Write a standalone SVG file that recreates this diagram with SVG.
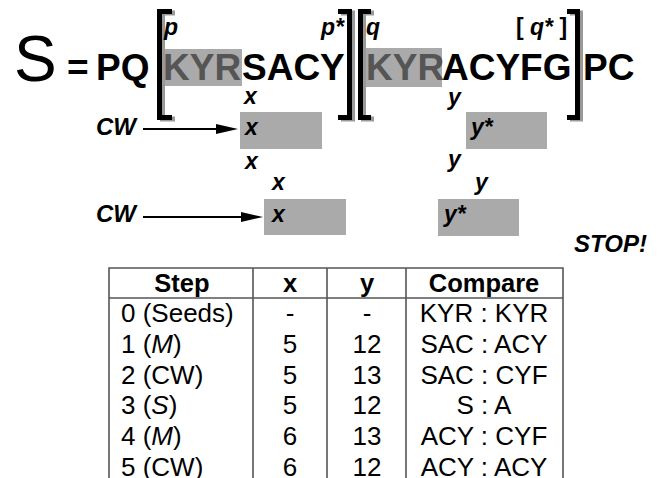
<svg xmlns="http://www.w3.org/2000/svg" width="661" height="478" viewBox="0 0 661 478">
<defs>
<style>
.big{font-family:"Liberation Sans",Arial,sans-serif;font-weight:bold;font-size:37px;fill:#000}
.kyr{fill:#555}
.lab{font-family:"Liberation Sans",Arial,sans-serif;font-weight:bold;font-style:italic;font-size:23px;fill:#000}
.cw{font-family:"Liberation Sans",Arial,sans-serif;font-weight:bold;font-style:italic;font-size:24px;fill:#000}
.box{fill:#aaaaaa}
.br{fill:none;stroke:#000;stroke-width:5;stroke-linejoin:miter}
.brs{fill:none;stroke:#999;stroke-width:5;stroke-linejoin:miter}
.conn{stroke:#000;stroke-width:2;fill:none}
.head{fill:#000}
.tl{stroke:#555;stroke-width:1.6;fill:none}
.th{font-family:"Liberation Sans",Arial,sans-serif;font-weight:bold;font-size:25.5px;fill:#000}
.td{font-family:"Liberation Sans",Arial,sans-serif;font-size:26px;fill:#000}
.c{text-anchor:middle}
.i{font-style:italic}
</style>
</defs>
<rect width="661" height="478" fill="#fff"/>

<g id="sequence">
<text x="14" y="81" font-family="'Liberation Sans',Arial,sans-serif" font-size="64" fill="#000">S</text>
<text class="big" x="67" y="80">=</text>
<text class="big" x="96" y="80">PQ</text>
<rect class="box" x="161" y="49" width="81" height="37"/>
<text class="big kyr" x="163" y="80">KYR</text>
<text class="big" x="242" y="80">SACY</text>
<rect class="box" x="365" y="48" width="77" height="39"/>
<text class="big kyr" x="366" y="80">KYR</text>
<text class="big" x="442" y="80">ACYFG</text>
<text class="big" x="583" y="80">PC</text>
</g>

<g id="brackets">
<path class="brs" d="M175,13 H162.5 V119 H175"/>
<path class="brs" d="M341,13 H352.5 V119 H341"/>
<path class="brs" d="M374,13 H363.5 V119 H374"/>
<path class="brs" d="M570,13 H580.5 V119 H570"/>
<path class="br" d="M172,11.5 H159.5 V117.5 H172"/>
<path class="br" d="M338,11.5 H349.5 V117.5 H338"/>
<path class="br" d="M371,11.5 H360.5 V117.5 H371"/>
<path class="br" d="M567,11.5 H577.5 V117.5 H567"/>
</g>

<g id="labels-top">
<text class="lab" x="164" y="35">p</text>
<text class="lab" x="321" y="35">p*</text>
<text class="lab" x="366" y="35">q</text>
<text class="lab" x="516" y="35"><tspan font-style="normal">[</tspan> q* <tspan font-style="normal">]</tspan></text>
<text class="lab" x="244" y="104">x</text>
<text class="lab" x="448" y="105">y</text>
</g>

<g id="row1">
<text class="cw" x="96" y="135">CW</text>
<rect class="box" x="240" y="112" width="82" height="37"/>
<text class="lab" x="245" y="135">x</text>
<rect class="box" x="466" y="112" width="81" height="37"/>
<text class="lab" x="471" y="135">y*</text>
<text class="lab" x="245" y="169">x</text>
<text class="lab" x="448" y="167">y</text>
</g>

<g id="row2">
<text class="lab" x="272" y="190">x</text>
<text class="lab" x="475" y="190">y</text>
<text class="cw" x="96" y="222">CW</text>
<rect class="box" x="264" y="199" width="82" height="36"/>
<text class="lab" x="272" y="222">x</text>
<rect class="box" x="438" y="199" width="81" height="37"/>
<text class="lab" x="444" y="222">y*</text>
<text class="cw" x="574" y="252">STOP!</text>
</g>

<g id="connectors">
<line class="conn" x1="143" y1="129" x2="222" y2="129"/>
<polygon class="head" points="238,129 216,124 216,134"/>
<line class="conn" x1="143" y1="217" x2="246" y2="217"/>
<polygon class="head" points="263,217 241,212 241,222"/>
</g>

<g id="table">
<path class="tl" d="M109,480 V268 H563 V480 M109,298 H563 M253,268 V480 M327,268 V480 M406,268 V480"/>
<text class="th c" x="182" y="292">Step</text>
<text class="th c" x="290" y="292">x</text>
<text class="th c" x="367" y="292">y</text>
<text class="th c" x="484" y="292">Compare</text>

<text class="td" x="121" y="322">0 (Seeds)</text>
<text class="td c" x="290" y="322">-</text>
<text class="td c" x="367" y="322">-</text>
<text class="td c" x="484" y="322">KYR : KYR</text>

<text class="td" x="121" y="353">1 (<tspan class="i">M</tspan>)</text>
<text class="td c" x="290" y="353">5</text>
<text class="td c" x="367" y="353">12</text>
<text class="td c" x="484" y="353">SAC : ACY</text>

<text class="td" x="121" y="384">2 (CW)</text>
<text class="td c" x="290" y="384">5</text>
<text class="td c" x="367" y="384">13</text>
<text class="td c" x="484" y="384">SAC : CYF</text>

<text class="td" x="121" y="414">3 (<tspan class="i">S</tspan>)</text>
<text class="td c" x="290" y="414">5</text>
<text class="td c" x="367" y="414">12</text>
<text class="td c" x="484" y="414">S : A</text>

<text class="td" x="121" y="445">4 (<tspan class="i">M</tspan>)</text>
<text class="td c" x="290" y="445">6</text>
<text class="td c" x="367" y="445">13</text>
<text class="td c" x="484" y="445">ACY : CYF</text>

<text class="td" x="121" y="476">5 (CW)</text>
<text class="td c" x="290" y="476">6</text>
<text class="td c" x="367" y="476">12</text>
<text class="td c" x="484" y="476">ACY : ACY</text>
</g>
</svg>
